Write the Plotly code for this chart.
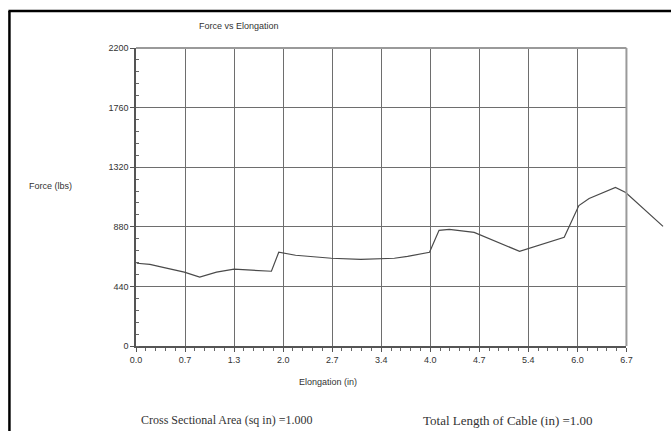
import plotly.graph_objects as go

# Data
elongation = [0.01, 0.19, 0.37, 0.66, 0.87, 1.10, 1.34, 1.85, 1.95, 2.18, 2.67, 3.07, 3.53,
              3.71, 4.01, 4.14, 4.28, 4.62, 5.24, 5.85, 6.05, 6.19, 6.55, 6.69, 7.20]
force = [611, 603, 581, 545, 508, 545, 567, 552, 692, 670, 648, 640, 648,
         662, 692, 854, 861, 839, 699, 802, 1037, 1089, 1170, 1133, 883]

x_tick_vals = [0, 0.67, 1.34, 2.01, 2.68, 3.35, 4.02, 4.69, 5.36, 6.03, 6.7]
x_tick_text = ["0.0", "0.7", "1.3", "2.0", "2.7", "3.4", "4.0", "4.7", "5.4", "6.0", "6.7"]
y_tick_vals = [0, 440, 880, 1320, 1760, 2200]
y_tick_text = ["0", "440", "880", "1320", "1760", "2200"]

W, H = 671, 431
L, R, T, B = 136, 0, 48, 85
plot_right = 632
pw = W - L - R
ph = H - T - B
dom = (plot_right - L) / pw
x_max = 6.7

def px(x):
    return (x - L) / pw

def py(y):
    return (H - B - y) / ph

fig = go.Figure()
fig.add_trace(go.Scatter(x=elongation, y=force, mode="lines",
                         line=dict(color="#4a4a4a", width=1.2),
                         xaxis="x2", yaxis="y2", showlegend=False))
# invisible trace to activate main axes
fig.add_trace(go.Scatter(x=[0, x_max], y=[0, 2200], mode="markers",
                         marker=dict(opacity=0), showlegend=False, hoverinfo="skip"))

font = dict(family="Liberation Sans, Arial", size=9, color="#333333")
serif = dict(family="Liberation Serif, Times New Roman", size=12, color="#333333")

fig.update_layout(
    width=W, height=H,
    margin=dict(l=L, r=R, t=T, b=B),
    paper_bgcolor="white", plot_bgcolor="rgba(0,0,0,0)",
    font=font,
    xaxis=dict(domain=[0, dom], range=[0, x_max], tickvals=x_tick_vals, ticktext=x_tick_text,
               showgrid=True, gridcolor="#6e6e6e", gridwidth=1.4,
               showline=True, linecolor="#555555", linewidth=1.5, mirror=False,
               ticks="outside", ticklen=4, tickcolor="#555555", zeroline=False,
               minor=dict(dtick=0.134, tick0=0, ticks="outside", ticklen=3, tickcolor="#666666",
                          showgrid=False),
               tickfont=font, fixedrange=True),
    yaxis=dict(domain=[0, 1], range=[0, 2200], tickvals=y_tick_vals, ticktext=y_tick_text,
               showgrid=True, gridcolor="#6e6e6e", gridwidth=1.4,
               showline=True, linecolor="#555555", linewidth=1.5,
               ticks="outside", ticklen=4, tickcolor="#555555", zeroline=False,
               minor=dict(dtick=88, tick0=0, ticks="inside", ticklen=3, tickcolor="#666666",
                          showgrid=False),
               tickfont=font, fixedrange=True),
    xaxis2=dict(domain=[0, 1], range=[0, x_max / dom], visible=False, anchor="y2",
                fixedrange=True, showgrid=False),
    yaxis2=dict(domain=[0, 1], range=[0, 2200], visible=False, anchor="x2",
                fixedrange=True, showgrid=False),
)

# Plot frame (top and right edges)
fig.add_shape(type="line", xref="paper", yref="paper", x0=0, x1=dom, y0=1, y1=1,
              line=dict(color="#9a9a9a", width=2))
fig.add_shape(type="line", xref="paper", yref="paper", x0=dom, x1=dom, y0=0, y1=1,
              line=dict(color="#9a9a9a", width=2))

# Outer border
fig.add_shape(type="line", xref="paper", yref="paper", x0=px(8), x1=px(8), y0=py(440), y1=py(11),
              line=dict(color="black", width=2.5))
fig.add_shape(type="line", xref="paper", yref="paper", x0=px(7), x1=px(680), y0=py(11), y1=py(11),
              line=dict(color="black", width=2.5))

ann = [
    ("Force vs Elongation", 240, 26, font),
    ("Force (lbs)", 50, 186, font),
    ("Elongation (in)", 330, 382, font),
    ("Cross Sectional Area (sq in) =1.000", 228, 420, serif),
    ("Total Length of Cable (in) =1.00", 512, 420, dict(serif, size=13)),
]
for text, x, y, f in ann:
    fig.add_annotation(text=text, xref="paper", yref="paper", x=px(x), y=py(y),
                       showarrow=False, xanchor="center", yanchor="middle", font=f)

fig.write_html("out.html", config={"displayModeBar": False},
               post_script="document.body.style.margin='0px';")
